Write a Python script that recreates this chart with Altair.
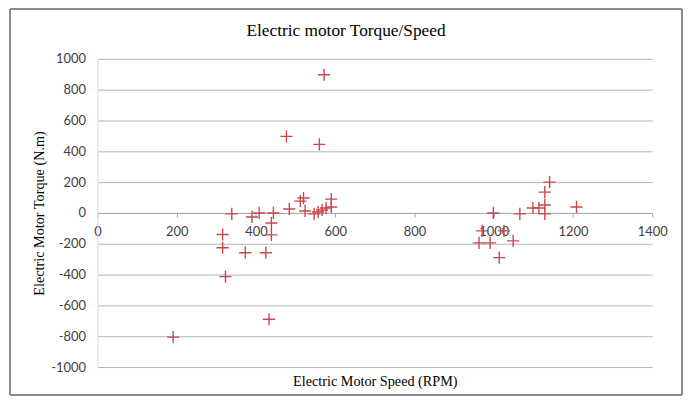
import altair as alt
import pandas as pd

speed = [191, 316, 316, 323, 339, 373, 390, 408, 425, 433, 439, 439, 444, 477, 484,
         512, 520, 524, 547, 557, 560, 567, 572, 577, 590, 590,
         963, 971, 991, 999, 1014, 1026, 1049, 1066, 1099, 1114, 1129, 1129, 1129, 1141, 1209]
torque = [-806, -140, -226, -413, -6, -258, -26, 0, -258, -690, -65, -142, 0, 497, 26,
          77, 97, 13, -6, 6, 445, 19, 897, 32, 90, 39,
          -194, -116, -194, 0, -290, -116, -181, -6, 32, 32, -6, 52, 135, 200, 39]

x_ticks = [0, 200, 400, 600, 800, 1000, 1200, 1400]
y_ticks = [-1000, -800, -600, -400, -200, 0, 200, 400, 600, 800, 1000]

title_text = "Electric motor Torque/Speed"
x_title = "Electric Motor Speed (RPM)"
y_title = "Electric Motor Torque (N.m)"

df = pd.DataFrame({"speed": speed, "torque": torque})

W, H = 558, 310

plus_path = "M-1,0L1,0M0,-1L0,1"
hyphen_label = "datum.value < 0 ? '-' + abs(datum.value) : '' + datum.value"

points = alt.Chart(df).mark_point(
    shape=plus_path, filled=False, color="#C9484C", strokeWidth=1.4, size=150, opacity=1
).encode(
    x=alt.X("speed:Q",
            scale=alt.Scale(domain=[0, 1400], nice=False),
            axis=alt.Axis(values=x_ticks, grid=False, offset=-H / 2, title=x_title,
                          labelExpr=hyphen_label,
                          titleY=170, titleBaseline="middle", titleFont="Liberation Serif",
                          titleFontSize=14.3, titleFontWeight="normal", titleColor="#000000",
                          labelFont="Lato", labelFontSize=13, labelColor="#404040",
                          labelPadding=9, tickSize=4, tickColor="#A6A6A6",
                          domainColor="#A6A6A6", labelFlush=False)),
    y=alt.Y("torque:Q",
            scale=alt.Scale(domain=[-1000, 1000], nice=False),
            axis=alt.Axis(values=y_ticks, grid=True, gridColor="#B3B3B3", gridWidth=1,
                          labelExpr=hyphen_label,
                          title=y_title, titleX=-58, titleY=H / 2, titleAngle=270,
                          titleAlign="center", titleBaseline="middle",
                          titleFont="Liberation Serif", titleFontSize=14.3,
                          titleFontWeight="normal", titleColor="#000000",
                          labelFont="Lato", labelFontSize=13, labelColor="#404040",
                          labelPadding=12, ticks=False, domainColor="#D9D9D9")),
)

frame = alt.Chart(df).mark_rect(
    fill=None, stroke="#8C8C8C", strokeWidth=1, clip=False
).encode(
    x=alt.value(-88), x2=alt.value(588), y=alt.value(-50), y2=alt.value(338)
)

title = alt.Chart(pd.DataFrame({"t": [title_text]})).mark_text(
    font="Liberation Serif", fontSize=17.4, color="#000000", baseline="middle", align="center"
).encode(
    text="t:N", x=alt.value(250), y=alt.value(-28)
)

chart = alt.layer(frame, points, title).properties(
    width=W, height=H,
    autosize=alt.AutoSizeParams(type="none"),
    padding={"left": 90, "top": 50, "right": 32, "bottom": 32},
).configure_view(stroke=None)

chart.save("out.html", embed_options={"renderer": "svg", "actions": False})
